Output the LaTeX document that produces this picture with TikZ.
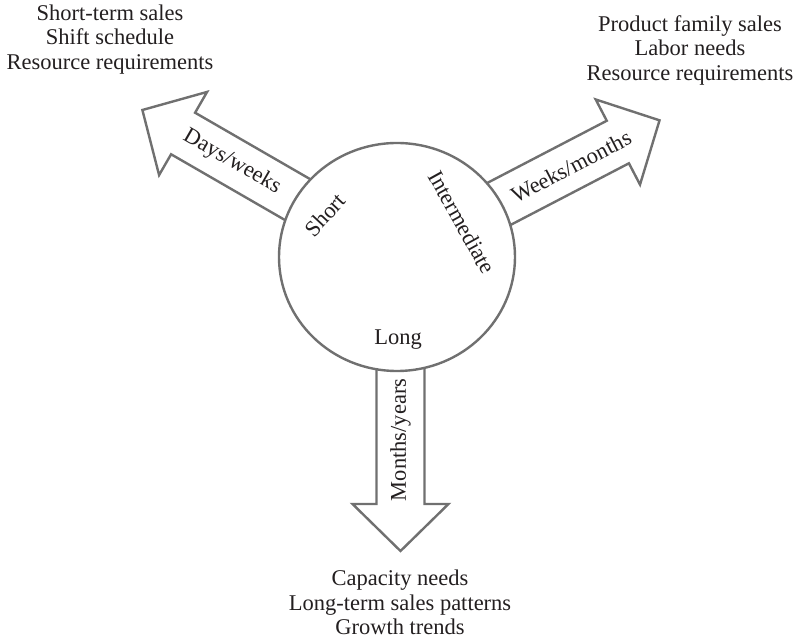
\documentclass[tikz,border=0pt]{standalone}
\usepackage{fontspec}
\setmainfont{Liberation Serif}
\usetikzlibrary{shapes.geometric}
\definecolor{edgegray}{RGB}{112,112,112}
\definecolor{inkdark}{RGB}{35,31,32}
\begin{document}
\begin{tikzpicture}[x=1pt,y=1pt,
  arrowline/.style={draw=edgegray,line width=2.4pt,fill=white,line join=miter},
  lbl/.style={text=inkdark,font=\fontsize{22.5}{24.5}\selectfont,inner sep=0pt},
  listtext/.style={lbl,align=center},
  pics/bigarrow/.style={code={
    \path[arrowline] (0,-24) -- ({#1-47},-24) -- ({#1-47},-48) -- (#1,0)
      -- ({#1-47},48) -- ({#1-47},24) -- (0,24) -- cycle;
  }}]
\useasboundingbox (0,0) rectangle (796,640);

% three horizon arrows leaving the hub
\pic[rotate=150] at (397,383) {bigarrow=294};
\pic[rotate=27.5] at (397,383) {bigarrow=296};
\pic[rotate=-90] at (400.5,383) {bigarrow=294};

% planning hub
\node[ellipse,draw=edgegray,line width=2.4pt,fill=white,
      minimum width=236,minimum height=228,inner sep=0pt] (hub) at (397,383) {};

% horizon names inside the hub
\node[lbl,rotate=47] (short) at (325,425) {Short};
\node[lbl,rotate=-61] (inter) at (462,418) {Intermediate};
\node[lbl] (long) at (398,300) {Long};

% time spans along the arrows
\node[lbl,rotate=-30] (dw) at (232,478) {Days/weeks};
\node[lbl,rotate=27.5] (wm) at (571,473.5) {Weeks/months};
\node[lbl,rotate=90] (my) at (400.5,200) {Months/years};

% outputs of each horizon
\node[listtext] (shortout) at (110,600.5)
  {Short-term sales\\Shift schedule\\Resource requirements};
\node[listtext] (interout) at (690,590)
  {Product family sales\\Labor needs\\Resource requirements};
\node[listtext] (longout) at (400,37.5)
  {Capacity needs\\Long-term sales patterns\\Growth trends};
\end{tikzpicture}
\end{document}
